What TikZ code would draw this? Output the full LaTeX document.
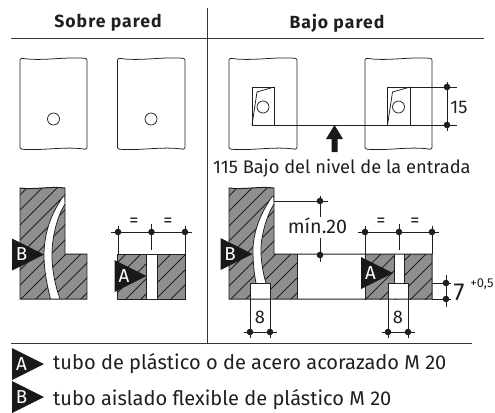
\documentclass[tikz,border=0pt]{standalone}
\usepackage{fontspec}
\setmainfont{Fira Sans}
\definecolor{wallgray}{gray}{0.56}
\definecolor{inkblack}{gray}{0.12}
\tikzset{
  thinline/.style={line width=0.65pt,draw=inkblack},
  dimline/.style={line width=0.55pt,draw=inkblack},
  blockline/.style={line width=0.85pt,draw=inkblack},
  rule/.style={line width=0.75pt,draw=inkblack!90},
  label/.style={inner sep=0pt,text=inkblack,font=\fontsize{15.6}{17}\selectfont},
  legendtext/.style={inner sep=0pt,text=inkblack,font=\fontsize{17.1}{18}\selectfont},
  title/.style={inner sep=0pt,text=inkblack,font=\fontsize{15}{17}\selectfont\addfontfeature{LetterSpace=6}\bfseries},
  mark letter/.style={inner sep=0pt,text=white,font=\fontsize{16}{17}\selectfont}
}
% wall seen from the front
\newcommand{\wallview}[2]{
  \draw[thinline] (#1,60) to[out=90,in=180,looseness=0.8] (#1+2,58.3)
    .. controls (#1+22,61.5) and (#2-22,56.5) .. (#2-2,58.3) to[out=0,in=90,looseness=0.8] (#2,60) -- (#2,147.5)
    to[out=-90,in=0,looseness=0.8] (#2-2,149.2) .. controls (#2-22,146) and (#1+22,151) .. (#1+2,149.2)
    to[out=180,in=-90,looseness=0.8] (#1,147.5) -- cycle;
}
% black marker with its letter
\newcommand{\tubemark}[4]{
  \fill[black!90] (#1,#2-16) -- (#1+32,#2) -- (#1,#2+16) -- cycle;
  \node[mark letter] (#4) at (#1+9.5,#2) {#3};
}
\newcommand{\dimdot}[2]{\fill[inkblack] (#1,#2) circle (2.8pt);}
% hatching of a block
\newcommand{\hatchfill}[4]{
  \begin{scope}
    \clip (#1,#2) rectangle (#3,#4);
    \fill[wallgray] (#1,#2) rectangle (#3,#4);
    \foreach \hx in {-110,-95,...,480}
      \draw[thinline] (\hx,310) -- (\hx+130,180);
  \end{scope}
}
\begin{document}
\begin{tikzpicture}[x=0.03cm,y=-0.03cm]
\useasboundingbox (0,0) rectangle (495,412);
%titles and frame
\draw[rule] (207,8) -- (207,343);
\draw[rule] (11,38) -- (484,38);
\draw[rule] (11,343) -- (472,343);
\node[title] (sobre) at (108,23) {Sobre pared};
\node[title] (bajo) at (337,23) {Bajo pared};
%front views
\wallview{20}{87}
\wallview{117.5}{185}
\wallview{229}{297}
\wallview{365}{432}
\draw[thinline] (53.5,119) circle (6);
\draw[thinline] (151,119) circle (6);
%boxes under the wall
\draw[thinline] (274,125) -- (252,125) -- (252,87) -- (274,87) -- cycle;
\draw[thinline] (252,125) -- (257,92) -- (274,87);
\draw[thinline] (263,107) circle (6);
\draw[thinline] (410,125) -- (387.5,125) -- (387.5,87) -- (410,87) -- cycle;
\draw[thinline] (387.5,125) -- (392.5,92) -- (410,87);
\draw[thinline] (398.5,107) circle (6);
\draw[thinline] (252,125) -- (457,125);
\draw[thinline] (410,87) -- (457,87);
\draw[dimline] (447,82) -- (447,131);
\dimdot{447}{87}
\dimdot{447}{125}
\node[label] (quince) at (459,107.5) {15};
\fill[black!90] (334.5,125) -- (343,139) -- (337.5,139) -- (337.5,152) -- (331.5,152) -- (331.5,139) -- (326,139) -- cycle;
\node[label,anchor=west] (nivel) at (213,168) {115 Bajo del nivel de la entrada};
%section on the wall
\begin{scope}
  \clip (20,188) .. controls (35,190) and (50,186) .. (65,188) -- (65,254) -- (87,254) -- (87,299) -- (20,299) -- cycle;
  \hatchfill{20}{186}{87}{299}
  \fill[white] (63.5,196) .. controls (50,215) and (44,235) .. (44,255) .. controls (44,270) and (47,285) .. (50.5,299)
    -- (60,299) .. controls (55,285) and (52,270) .. (52,255) .. controls (52,235) and (58,215) .. (65,204) -- cycle;
\end{scope}
\draw[blockline] (20,299) -- (20,188) .. controls (35,190) and (50,186) .. (65,188) -- (65,254) -- (87,254) -- (87,299) -- cycle;
\draw[thinline] (63.5,196) .. controls (50,215) and (44,235) .. (44,255) .. controls (44,270) and (47,285) .. (50.5,299);
\draw[thinline] (65,204) .. controls (58,215) and (52,235) .. (52,255) .. controls (52,270) and (55,285) .. (60,299);
\tubemark{12}{254.5}{B}{markb}
%section in front of the wall
\hatchfill{117.5}{254}{185}{299}
\fill[white] (146.5,254) rectangle (157,299);
\draw[thinline] (146.5,254) -- (146.5,299);
\draw[thinline] (157,254) -- (157,299);
\draw[blockline] (117.5,254) rectangle (185,299);
\tubemark{114.5}{276}{A}{marka}
\draw[dimline] (111,232) -- (192,232);
\draw[dimline] (118,226) -- (118,254);
\draw[dimline] (185,226) -- (185,254);
\draw[dimline] (151.5,224) -- (151.5,250);
\foreach \dx in {118,151.5,185} {\dimdot{\dx}{232}}
\node[label] (igualc) at (134,222) {=};
\node[label] (iguald) at (168,222) {=};
%section under the wall
\begin{scope}
  \clip (229,299) -- (229,188) .. controls (244,190) and (259,186) .. (274,188) -- (274,254) -- (297,254) -- (297,299) -- cycle;
  \hatchfill{229}{186}{297}{299}
  \fill[white] (272.5,196) .. controls (259,215) and (253,235) .. (253,250) .. controls (253,262) and (254,273) .. (256,283)
    -- (266,283) .. controls (263,273) and (261,262) .. (261,250) .. controls (261,235) and (267,215) .. (274,204) -- cycle;
  \fill[white] (250,283) rectangle (270,299);
\end{scope}
\draw[thinline] (272.5,196) .. controls (259,215) and (253,235) .. (253,250) .. controls (253,262) and (254,273) .. (256,283);
\draw[thinline] (274,204) .. controls (267,215) and (261,235) .. (261,250) .. controls (261,262) and (263,273) .. (266,283);
\draw[thinline] (250,299) -- (250,283) -- (270,283) -- (270,299);
\hatchfill{365}{254}{432}{299}
\fill[white] (394,254) rectangle (404,283);
\fill[white] (388,283) rectangle (408,299);
\draw[thinline] (394,254) -- (394,283);
\draw[thinline] (404,254) -- (404,283);
\draw[thinline] (388,299) -- (388,283) -- (408,283) -- (408,299);
\draw[blockline] (229,299) -- (229,188) .. controls (244,190) and (259,186) .. (274,188) -- (274,254) -- (432,254) -- (432,299) -- cycle;
\draw[blockline] (297,254) -- (297,299);
\draw[blockline] (365,254) -- (365,299);
\tubemark{220.5}{254}{B}{markbb}
\tubemark{361}{273}{A}{markab}
%dimensions of the lower right part
\draw[dimline] (274,201) -- (328,201);
\draw[dimline] (320,196) -- (320,217);
\draw[dimline] (320,238) -- (320,262);
\dimdot{320}{201}
\dimdot{320}{255}
\node[label,font=\fontsize{16.8}{18}\selectfont] (minimo) at (317.5,226) {mín.20};
\draw[dimline] (358,232) -- (439,232);
\draw[dimline] (365,226) -- (365,254);
\draw[dimline] (432,226) -- (432,254);
\draw[dimline] (399,224) -- (399,250);
\foreach \dx in {365,399,432} {\dimdot{\dx}{232}}
\node[label] (iguale) at (381,222) {=};
\node[label] (igualf) at (415,222) {=};
\draw[dimline] (432,283) -- (451,283);
\draw[dimline] (432,299) -- (451,299);
\draw[dimline] (446,275) -- (446,307);
\dimdot{446}{283}
\dimdot{446}{299}
\node[label,font=\fontsize{21}{22}\selectfont] (siete) at (459,292) {7};
\node[label,font=\fontsize{11}{12}\selectfont] (tol) at (482,284) {+0,5};
\foreach \dx in {250,270,388,408} {
  \draw[dimline] (\dx,299) -- (\dx,338);
  \dimdot{\dx}{332}
}
\draw[dimline] (244,332) -- (277,332);
\draw[dimline] (382,332) -- (415,332);
\node[label] (ochoa) at (260,317) {8};
\node[label] (ochob) at (398,317) {8};
%legend
\tubemark{12}{364}{A}{lega}
\tubemark{12}{397}{B}{legb}
\node[legendtext,anchor=west] (texta) at (53,364) {tubo de plástico o de acero acorazado M 20};
\node[legendtext,anchor=west] (textb) at (53,400) {tubo aislado flexible de plástico M 20};
\end{tikzpicture}
\end{document}
